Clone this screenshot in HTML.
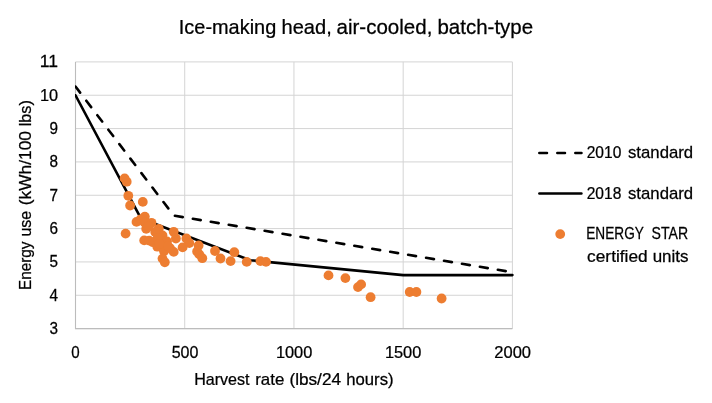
<!DOCTYPE html>
<html lang="en">
<head>
<meta charset="utf-8">
<title>Ice-making head, air-cooled, batch-type</title>
<style>
html,body{margin:0;padding:0;background:#fff;}
body{width:712px;height:403px;overflow:hidden;}
svg{display:block;}
svg text{font-family:"Liberation Sans",sans-serif;fill:#000;white-space:pre;stroke:#000;stroke-width:0.25px;}
</style>
</head>
<body>
<svg width="712" height="403" viewBox="0 0 712 403">
<rect width="712" height="403" fill="#fff"/>
<g stroke="#d4d4d4" stroke-width="1" fill="none">
<line x1="75.5" y1="328.60" x2="512.4" y2="328.60"/>
<line x1="75.5" y1="295.26" x2="512.4" y2="295.26"/>
<line x1="75.5" y1="261.93" x2="512.4" y2="261.93"/>
<line x1="75.5" y1="228.59" x2="512.4" y2="228.59"/>
<line x1="75.5" y1="195.25" x2="512.4" y2="195.25"/>
<line x1="75.5" y1="161.91" x2="512.4" y2="161.91"/>
<line x1="75.5" y1="128.58" x2="512.4" y2="128.58"/>
<line x1="75.5" y1="95.24" x2="512.4" y2="95.24"/>
<line x1="75.5" y1="61.90" x2="512.4" y2="61.90"/>
<line x1="75.50" y1="61.9" x2="75.50" y2="328.6"/>
<line x1="184.72" y1="61.9" x2="184.72" y2="328.6"/>
<line x1="293.95" y1="61.9" x2="293.95" y2="328.6"/>
<line x1="403.18" y1="61.9" x2="403.18" y2="328.6"/>
<line x1="512.40" y1="61.9" x2="512.40" y2="328.6"/>
<polyline points="75.5,61.9 75.5,328.6 512.4,328.6" stroke="#bcbcbc" stroke-width="1.1"/>
</g>
<g>
<text transform="translate(178.80,33.8) scale(1.0019,1)" font-size="19.9">Ice-making</text>
<text transform="translate(281.49,33.8) scale(1.0095,1)" font-size="19.9">head,</text>
<text transform="translate(336.50,33.8) scale(1.0324,1)" font-size="19.9">air-cooled,</text>
<text transform="translate(437.47,33.8) scale(1.0303,1)" font-size="19.9">batch-type</text>
<text transform="translate(194.21,385.3) scale(0.9914,1)" font-size="16.2">Harvest</text>
<text transform="translate(255.26,385.3) scale(1.0413,1)" font-size="16.2">rate</text>
<text transform="translate(289.44,385.3) scale(1.0613,1)" font-size="16.2">(lbs/24</text>
<text transform="translate(346.27,385.3) scale(1.0316,1)" font-size="16.2">hours)</text>
<text transform="translate(71.20,357.9) scale(0.9333,1)" font-size="16.2">0</text>
<text transform="translate(171.65,357.9) scale(0.9905,1)" font-size="16.2">500</text>
<text transform="translate(275.89,357.9) scale(1.0112,1)" font-size="16.2">1000</text>
<text transform="translate(384.89,357.9) scale(1.0112,1)" font-size="16.2">1500</text>
<text transform="translate(494.30,357.9) scale(1.0192,1)" font-size="16.2">2000</text>
<text transform="translate(586.70,158.3) scale(0.9609,1)" font-size="16.2">2010</text>
<text transform="translate(628.00,158.3) scale(1.0340,1)" font-size="16.2">standard</text>
<text transform="translate(586.70,198.8) scale(0.9609,1)" font-size="16.2">2018</text>
<text transform="translate(628.00,198.8) scale(1.0340,1)" font-size="16.2">standard</text>
<text transform="translate(586.26,239.4) scale(0.8421,1)" font-size="16.2">ENERGY</text>
<text transform="translate(651.60,239.4) scale(0.8697,1)" font-size="16.2">STAR</text>
<text transform="translate(587.10,261.5) scale(1.0687,1)" font-size="16.2">certified</text>
<text transform="translate(652.65,261.5) scale(1.0484,1)" font-size="16.2">units</text>
<text transform="translate(30.6,290.05) rotate(-90) scale(0.9473,1)" font-size="16.2">Energy</text>
<text transform="translate(30.6,236.59) rotate(-90) scale(0.9882,1)" font-size="16.2">use</text>
<text transform="translate(30.6,205.17) rotate(-90) scale(1.0708,1)" font-size="16.2">(kWh/100</text>
<text transform="translate(30.6,126.30) rotate(-90) scale(1.0043,1)" font-size="16.2">lbs)</text>
<text transform="translate(49.50,333.90000000000003) scale(0.9444,1)" font-size="16.2">3</text>
<text transform="translate(49.50,300.56250000000006) scale(0.9444,1)" font-size="16.2">4</text>
<text transform="translate(49.50,267.225) scale(0.9444,1)" font-size="16.2">5</text>
<text transform="translate(49.50,233.88750000000005) scale(0.9444,1)" font-size="16.2">6</text>
<text transform="translate(49.50,200.55000000000004) scale(0.9444,1)" font-size="16.2">7</text>
<text transform="translate(49.50,167.21250000000003) scale(0.9444,1)" font-size="16.2">8</text>
<text transform="translate(49.50,133.87500000000003) scale(0.9444,1)" font-size="16.2">9</text>
<text transform="translate(39.89,100.53750000000001) scale(1.0057,1)" font-size="16.2">10</text>
<text transform="translate(39.82,67.2) scale(1.0823,1)" font-size="16.2">11</text>
</g>
<clipPath id="pc"><rect x="75" y="50" width="445" height="290"/></clipPath>
<g fill="none" stroke="#000" stroke-width="2.6" stroke-linejoin="round" stroke-linecap="round">
<g clip-path="url(#pc)">
<polyline points="75.50,86.57 173.80,215.59 512.40,272.26" stroke-dasharray="8.0 10.19" stroke-dashoffset="0.37"/>
<polyline points="75.50,95.24 141.03,218.55 250.26,260.26 403.18,275.09 512.40,275.09"/>
</g>
<line x1="539.3" y1="152.9" x2="581.5" y2="152.9" stroke-width="2.5" stroke-dasharray="7.7 10.3"/>
<line x1="539.3" y1="193.5" x2="581.5" y2="193.5" stroke-width="2.35"/>
</g>
<g fill="#ed7d31">
<circle cx="124.6" cy="178.4" r="4.9"/>
<circle cx="126.7" cy="181.7" r="4.9"/>
<circle cx="128.3" cy="195.8" r="4.9"/>
<circle cx="142.8" cy="201.9" r="4.9"/>
<circle cx="130.1" cy="205.5" r="4.9"/>
<circle cx="125.6" cy="233.6" r="4.9"/>
<circle cx="136.5" cy="221.9" r="4.9"/>
<circle cx="144.8" cy="216.6" r="4.9"/>
<circle cx="144.2" cy="240.4" r="4.9"/>
<circle cx="151.5" cy="222.8" r="4.9"/>
<circle cx="140.5" cy="219.4" r="4.9"/>
<circle cx="144.4" cy="222.3" r="4.9"/>
<circle cx="146.2" cy="228.8" r="4.9"/>
<circle cx="158.8" cy="228.8" r="4.9"/>
<circle cx="155.2" cy="232.0" r="4.9"/>
<circle cx="162.5" cy="235.5" r="4.9"/>
<circle cx="173.7" cy="231.8" r="4.9"/>
<circle cx="175.9" cy="238.5" r="4.9"/>
<circle cx="186.4" cy="238.5" r="4.9"/>
<circle cx="189.3" cy="243.0" r="4.9"/>
<circle cx="182.6" cy="247.4" r="4.9"/>
<circle cx="152.9" cy="242.2" r="4.9"/>
<circle cx="157.3" cy="246.7" r="4.9"/>
<circle cx="164.8" cy="245.2" r="4.9"/>
<circle cx="170.0" cy="248.2" r="4.9"/>
<circle cx="164.0" cy="251.2" r="4.9"/>
<circle cx="173.7" cy="251.9" r="4.9"/>
<circle cx="162.5" cy="258.6" r="4.9"/>
<circle cx="164.8" cy="262.3" r="4.9"/>
<circle cx="161.0" cy="240.7" r="4.9"/>
<circle cx="167.0" cy="241.5" r="4.9"/>
<circle cx="198.6" cy="245.5" r="4.9"/>
<circle cx="197.1" cy="251.5" r="4.9"/>
<circle cx="199.3" cy="254.4" r="4.9"/>
<circle cx="202.3" cy="258.2" r="4.9"/>
<circle cx="215.0" cy="251.0" r="4.9"/>
<circle cx="220.5" cy="258.5" r="4.9"/>
<circle cx="234.3" cy="252.2" r="4.9"/>
<circle cx="230.6" cy="261.1" r="4.9"/>
<circle cx="246.7" cy="261.9" r="4.9"/>
<circle cx="260.4" cy="261.1" r="4.9"/>
<circle cx="266.0" cy="261.9" r="4.9"/>
<circle cx="328.5" cy="275.4" r="4.9"/>
<circle cx="345.4" cy="278.1" r="4.9"/>
<circle cx="358.0" cy="287.1" r="4.9"/>
<circle cx="361.1" cy="284.4" r="4.9"/>
<circle cx="370.6" cy="297.2" r="4.9"/>
<circle cx="409.7" cy="292.0" r="4.9"/>
<circle cx="416.4" cy="292.0" r="4.9"/>
<circle cx="441.6" cy="298.5" r="4.9"/>
<circle cx="148.5" cy="226.3" r="4.9"/>
<circle cx="149.2" cy="240.6" r="4.9"/>
<circle cx="157.6" cy="238.2" r="4.9"/>
<circle cx="159.5" cy="244.0" r="4.9"/>
<circle cx="168.0" cy="246.5" r="4.9"/>
<circle cx="560.2" cy="234.1" r="4.9"/>
</g>
</svg>
</body>
</html>
